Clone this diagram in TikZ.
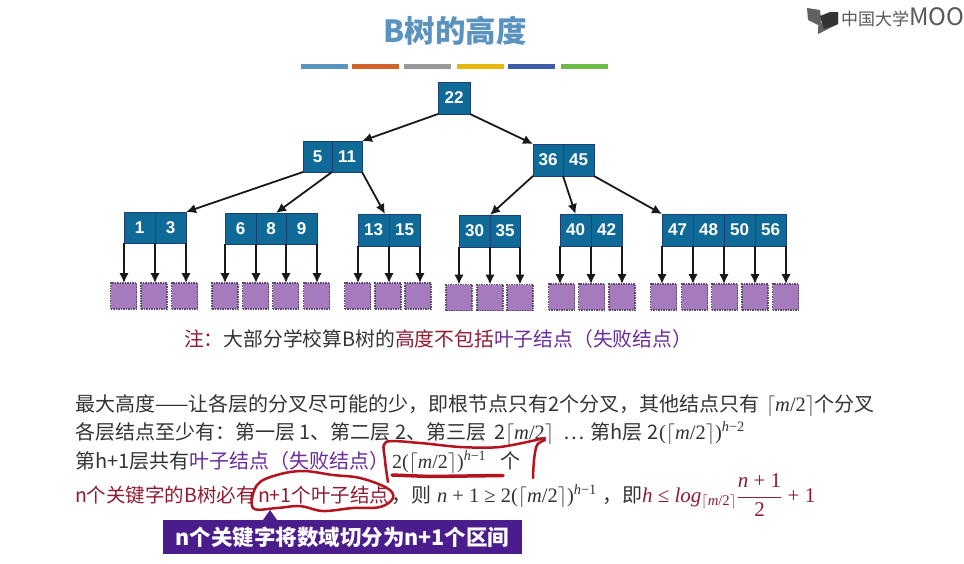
\documentclass[tikz,border=0pt]{standalone}
\usepackage{fontspec}
\setmainfont{Noto Sans CJK SC}
\newfontfamily\digitfont{Liberation Sans}
\newfontfamily\ser{Liberation Serif}
\usetikzlibrary{arrows.meta,calc}
\definecolor{HdrBlue}{HTML}{5B93C0}
\definecolor{txt}{HTML}{333333}
\definecolor{dred}{HTML}{8E1B32}
\definecolor{lpurple}{HTML}{6A2C9A}
\definecolor{keyfill}{HTML}{0F6A98}
\definecolor{keyline}{HTML}{1B3F78}
\definecolor{leaffill}{HTML}{A67BBE}
\definecolor{leafline}{HTML}{5C4A6E}
\definecolor{pen}{HTML}{B3141E}
\definecolor{callout}{HTML}{4A1C8C}
\newcommand{\sz}[1]{\fontsize{#1}{#1}\selectfont}
\newcommand{\ce}{$\lceil$\textit{m}/2$\rceil$}
\newcommand{\hp}[1]{\textsuperscript{\textit{h}−#1}}
\tikzset{
 keybox/.style={rectangle,draw=keyline,fill=keyfill,line width=1pt,inner sep=0pt,outer sep=0pt,minimum width=31pt,minimum height=31pt,text=white,font=\digitfont\bfseries\sz{17}},
 leafbox/.style={rectangle,draw=leafline,fill=leaffill,line width=1.5pt,densely dotted,inner sep=0pt,outer sep=0pt,minimum width=26pt,minimum height=26pt},
 arr/.style={draw=black!90,line width=1.8pt,-{Latex[length=10pt,width=9.5pt]}},
 line/.style={anchor=base west,inner sep=0pt,outer sep=0pt,text=txt,font=\sz{20}},
 mth/.style={anchor=base west,inner sep=0pt,outer sep=0pt,text=txt,font=\ser\sz{19.5}},
 bar/.style={rectangle,inner sep=0pt,minimum width=47pt,minimum height=5.5pt},
 penline/.style={draw=pen,line width=2.5pt,line cap=round,line join=round}
}
\begin{document}
\begin{tikzpicture}[x=1pt,y=-1pt]
\useasboundingbox (0,0) rectangle (964,563);
% title and bars
\node[inner sep=0pt,text=HdrBlue,font=\bfseries\sz{30.5}] (title) at (455,31) {B树的高度};
\foreach \n/\x/\c in {1/324.5/5B93C0,2/375.5/D0622A,3/427.5/999999,4/480.5/E6B711,5/531.5/3F5CA8,6/584.5/6CB944}{
  \definecolor{barc}{HTML}{\c}
  \node[bar,fill=barc] (bar\n) at (\x,66.5) {};
}
% logo
\fill[black!62] (807,8) -- (820,10) -- (822,27) -- (808,20) -- cycle;
\fill[black!62] (818,26) -- (818,34) -- (838,24) -- (838,12) -- cycle;
\fill[black!80] (820,16) -- (830,12) -- (838,12) -- (838,24) -- (824,29) -- cycle;
\node[anchor=base west,inner sep=0pt,text=black!65,font=\sz{17}] (logo) at (841,25) {中国大学{\sz{24}MOO}};
% keys
\node[keybox,minimum width=32pt,minimum height=32pt] (r) at (454,98) {22};
\node[keybox,minimum width=29pt] (n5) at (317.5,156.5) {5};
\node[keybox,minimum width=30pt] (n11) at (347,156.5) {11};
\node[keybox,minimum width=30pt,minimum height=32pt] (n36) at (548,160) {36};
\node[keybox,minimum width=31pt,minimum height=32pt] (n45) at (578.5,160) {45};
\node[keybox] (n1) at (139.5,227.5) {1};
\node[keybox] (n3) at (170.5,227.5) {3};
\node[keybox] (n6) at (240.5,228.5) {6};
\node[keybox,minimum width=30pt] (n8) at (271,228.5) {8};
\node[keybox] (n9) at (301.5,228.5) {9};
\node[keybox,minimum height=32pt] (n13) at (373.5,230) {13};
\node[keybox,minimum height=32pt] (n15) at (404.5,230) {15};
\node[keybox,minimum height=32pt] (n30) at (474.5,231) {30};
\node[keybox,minimum width=30pt,minimum height=32pt] (n35) at (505,231) {35};
\node[keybox,minimum height=32pt] (n40) at (575.5,230) {40};
\node[keybox,minimum height=32pt] (n42) at (606.5,230) {42};
\node[keybox,minimum height=32pt] (n47) at (677.5,230) {47};
\node[keybox,minimum height=32pt] (n48) at (708.5,230) {48};
\node[keybox,minimum height=32pt] (n50) at (739.5,230) {50};
\node[keybox,minimum height=32pt] (n56) at (770.5,230) {56};
% leaves
\foreach \n/\x/\y in {1/123.5/296,2/154/296,3/184.5/296,4/225/296,5/255.5/296,6/285.5/296,7/316.5/296,8/357.5/296,9/388/296,10/418/296,11/459/297.5,12/490/297.5,13/520/297.5,14/561.5/297,15/591.5/297,16/622/297,17/663.5/297,18/694.5/297,19/724.5/297,20/755/297,21/785.5/297}
  \node[leafbox] (l\n) at (\x,\y) {};
% upper connectors
\draw[arr] (r.south west) -- (n11.north east);
\draw[arr] (r.south east) -- (n36.north west);
\draw[arr] (n5.south west) -- (n3.north east);
\draw[arr] (n5.south east) -- ([xshift=5pt]n8.north);
\draw[arr] (n11.south east) -- ([xshift=-4pt]n13.north east);
\draw[arr] (n36.south west) -- (n30.north east);
\draw[arr] (n36.south east) -- (n40.north);
\draw[arr] (n45.south east) -- (n47.north west);
% leaf connectors
\foreach \k/\a/\l in {n1/south west/l1,n1/south east/l2,n3/south east/l3,n6/south west/l4,n6/south east/l5,n8/south east/l6,n9/south east/l7,n13/south west/l8,n13/south east/l9,n15/south east/l10,n30/south west/l11,n30/south east/l12,n35/south east/l13,n40/south west/l14,n40/south east/l15,n42/south east/l16,n47/south west/l17,n47/south east/l18,n48/south east/l19,n50/south east/l20,n56/south east/l21}
  \draw[arr] (\k.\a) -- (\k.\a |- \l.north);
% note
\node[line,font=\sz{19.8}] (note) at (184,346) {\textcolor{dred}{注：}大部分学校算B树的\textcolor{dred}{高度不包括}\textcolor{lpurple}{叶子结点（失败结点）}};
% line 1
\node[line] (a1) at (75,411) {最大高度——让各层的分叉尽可能的少，即根节点只有2个分叉，其他结点只有};
\node[mth,font=\ser\sz{20.5}] (a2) at (766,411) {\ce};
\node[line] (a3) at (814,411) {个分叉};
% line 2
\node[line] (b1) at (75,439) {各层结点至少有：第一层 1、第二层 2、第三层};
\node[line] (b1b) at (494,439) {2};
\node[mth,font=\ser\sz{20.5}] (b2) at (505,439) {\ce};
\node[line] (b3) at (563,439) {…};
\node[line] (b4) at (590,439) {第h层};
\node[line] (b5) at (647,439) {2};
\node[mth,font=\ser\sz{20.5}] (b6) at (659,439) {(\ce)\hp{2}};
% line 3
\node[line] (c1) at (75,468) {第h+1层共有\textcolor{lpurple}{叶子结点（失败结点）}};
\node[mth,font=\ser\sz{20}] (c2) at (392,468) {2(\ce)\hp{1}};
\node[line] (c3) at (500,468) {个};
% line 4
\node[line,text=dred,font=\sz{19.5}] (d1) at (75,502) {n个关键字的B树必有};
\node[line,text=dred,font=\sz{19.5}] (d2) at (258,502) {n+1个叶子结点};
\node[line] (d3) at (391,502) {，则};
\node[mth,font=\ser\sz{20.5}] (d4) at (437,502) {\textit{n} + 1 ≥ 2(\ce)\hp{1}};
\node[line] (d5) at (602,502) {，即};
\node[mth,text=dred,font=\ser\sz{21}] (d6) at (642,502) {\textit{h} ≤ \textit{log}\textsubscript{\ce}$\displaystyle\frac{\mbox{\textit{n} + 1}}{\mbox{2}}$ + 1};
% pen strokes
\draw[penline] plot[smooth cycle,tension=0.6] coordinates {(253,508) (257,485) (277,475) (303,471) (333,475) (360,478) (387,488) (393,498) (380,507) (353,508) (323,511) (300,506) (277,508)};
\draw[penline] plot[smooth,tension=0.5] coordinates {(388,482) (385,460) (386,442) (420,443) (460,447) (500,447) (545,438)};
\draw[penline] plot[smooth,tension=0.5] coordinates {(545,440) (537,445) (534,460) (533,478)};
\draw[penline,line width=3.5pt] (392,475) -- (430,476.5) -- (503,475.5);
% callout
\fill[callout] (263,520) -- (270,510) -- (277,520) -- cycle;
\node[rectangle,fill=callout,inner sep=0pt,minimum width=359pt,minimum height=34pt,text=white,font=\bfseries\sz{21.5}] (box) at (342.5,537) {n个关键字将数域切分为n+1个区间};
\end{tikzpicture}
\end{document}
